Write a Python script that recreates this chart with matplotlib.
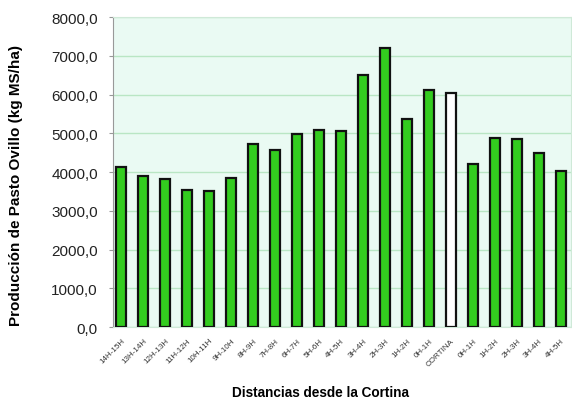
import matplotlib
matplotlib.use("Agg")
import matplotlib.pyplot as plt
import numpy as np

# Distance classes, measured outward on each side of the windbreak
categorias = ["14H-15H", "13H-14H", "12H-13H", "11H-12H", "10H-11H", "9H-10H",
              "8H-9H", "7H-8H", "6H-7H", "5H-6H", "4H-5H", "3H-4H", "2H-3H",
              "1H-2H", "0H-1H", "CORTINA", "0H-1H", "1H-2H", "2H-3H", "3H-4H",
              "4H-5H"]
produccion = [4130, 3900, 3810, 3530, 3500, 3840, 4720, 4570, 4990, 5090, 5060,
              6510, 7200, 5370, 6120, 6040, 4200, 4880, 4850, 4490, 4030]
marcadas = ["CORTINA"]

tick_vals = np.arange(0, 8001, 1000)
tick_txt = [f"{v:.1f}".replace(".", ",") for v in tick_vals]

plt.rcParams["font.family"] = ["Liberation Sans", "DejaVu Sans"]

fig = plt.figure(figsize=(5.72, 4.02), dpi=100)
ax = fig.add_axes([0.198, 0.184, 0.800, 0.771])
ax.set_facecolor("#eafaf3")

x = np.arange(len(categorias))
colores = ["white" if c in marcadas else "#33cc1f" for c in categorias]
ax.bar(x, produccion, width=0.46, color=colores, edgecolor="#111111",
       linewidth=1.6, zorder=3)

ax.set_ylim(0, 8000)
ax.set_xlim(-0.36, len(categorias) - 0.55)
ax.set_yticks(tick_vals)
ax.set_yticklabels(tick_txt, fontsize=11, color="#222222")
ax.yaxis.grid(True, color="#b9e6c4", linewidth=1.0, zorder=0)

ax.set_xticks(x)
ax.set_xticklabels(categorias, rotation=45, ha="right", rotation_mode="anchor",
                   fontsize=5.8, color="#333333")
ax.tick_params(axis="x", length=0, pad=7)
ax.tick_params(axis="y", length=3, color="#999999", pad=8)

for side in ["top", "right", "bottom"]:
    ax.spines[side].set_color("#cfe9d8")
ax.spines["left"].set_color("#999999")

ax.set_ylabel("Producción de Pasto Ovillo (kg MS/ha)", fontsize=11,
              fontweight="bold")
ax.yaxis.set_label_coords(-0.197, 0.46)
fig.text(0.56, 0.022, "Distancias desde la Cortina", fontsize=9.8,
         fontweight="bold", ha="center", va="center")

fig.savefig("out.png", dpi=100)
